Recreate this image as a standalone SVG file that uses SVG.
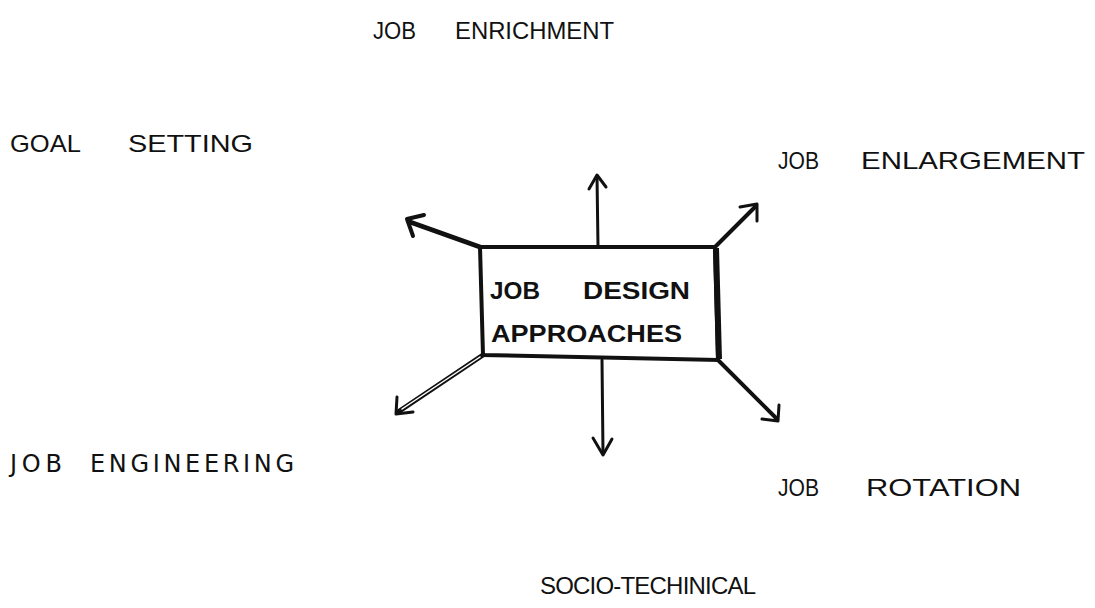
<svg xmlns="http://www.w3.org/2000/svg" width="1095" height="608" viewBox="0 0 1095 608">
  <style>
    .lbl { font-family: "Liberation Sans", "DejaVu Sans", sans-serif; font-size: 24px; fill: #111; }
    .mono { font-family: "DejaVu Sans", "Liberation Sans", sans-serif; font-size: 24px; fill: #111; }
    .box-txt { font-family: "Liberation Sans", "DejaVu Sans", sans-serif; font-size: 24px; font-weight: bold; fill: #111; }
    .arrow { stroke: #111; fill: none; stroke-linecap: round; stroke-linejoin: round; }
  </style>
  <rect width="1095" height="608" fill="#fff"/>

  <!-- central box -->
  <g id="center">
    <path d="M480,247 L715,247 L718,360 L483,355 Z" fill="#fff" stroke="#111" stroke-width="4"/>
    <line x1="716" y1="248" x2="719" y2="359" stroke="#111" stroke-width="6"/>
    <text class="box-txt" y="299"><tspan x="490" textLength="50" lengthAdjust="spacingAndGlyphs">JOB</tspan> <tspan x="583" textLength="107" lengthAdjust="spacingAndGlyphs">DESIGN</tspan></text>
    <text class="box-txt" x="491" y="342" textLength="191" lengthAdjust="spacingAndGlyphs">APPROACHES</text>
  </g>

  <!-- connectors radiating from the box -->
  <g id="connectors" class="arrow">
    <!-- up -->
    <path d="M598,247 L597,176" stroke-width="3"/>
    <path d="M589,189 L597,175 L606,187" stroke-width="3"/>
    <!-- up-left -->
    <path d="M480,247 L410,222" stroke-width="5"/>
    <path d="M413,236 L407,219 L424,215" stroke-width="4"/>
    <!-- up-right -->
    <path d="M715,247 L756,206" stroke-width="4"/>
    <path d="M740,207 L757,204 L757,221" stroke-width="3"/>
    <!-- down-left, drawn as a hollow double line -->
    <path d="M483,355 L398,412" stroke-width="5"/>
    <path d="M480,357 L402,409" stroke="#fff" stroke-width="1.5"/>
    <path d="M397,397 L396,414 L413,412" stroke-width="3"/>
    <!-- down -->
    <path d="M602,360 L603,453" stroke-width="3"/>
    <path d="M593,438 L603,455 L612,439" stroke-width="3"/>
    <!-- down-right -->
    <path d="M718,360 L777,419" stroke-width="4"/>
    <path d="M762,419 L778,421 L779,405" stroke-width="3"/>
  </g>

  <g id="job-enrichment"><text class="lbl" y="39"><tspan x="373" textLength="43" lengthAdjust="spacingAndGlyphs">JOB</tspan> <tspan x="455" textLength="159" lengthAdjust="spacingAndGlyphs">ENRICHMENT</tspan></text></g>
  <g id="goal-setting"><text class="lbl" y="152"><tspan x="10" textLength="70" lengthAdjust="spacingAndGlyphs">GOAL</tspan> <tspan x="128" textLength="125" lengthAdjust="spacingAndGlyphs">SETTING</tspan></text></g>
  <g id="job-enlargement"><text class="lbl" y="169"><tspan x="778" textLength="41" lengthAdjust="spacingAndGlyphs">JOB</tspan> <tspan x="861" textLength="224" lengthAdjust="spacingAndGlyphs">ENLARGEMENT</tspan></text></g>
  <g id="job-engineering"><text class="mono" y="472"><tspan x="10" textLength="52">JOB</tspan> <tspan x="90" textLength="204" lengthAdjust="spacing">ENGINEERING</tspan></text></g>
  <g id="job-rotation"><text class="lbl" y="496"><tspan x="778" textLength="41" lengthAdjust="spacingAndGlyphs">JOB</tspan> <tspan x="866" textLength="155" lengthAdjust="spacingAndGlyphs">ROTATION</tspan></text></g>
  <g id="socio-technical"><text class="lbl" x="540" y="594" textLength="216" lengthAdjust="spacing">SOCIO-TECHINICAL</text></g>
</svg>
